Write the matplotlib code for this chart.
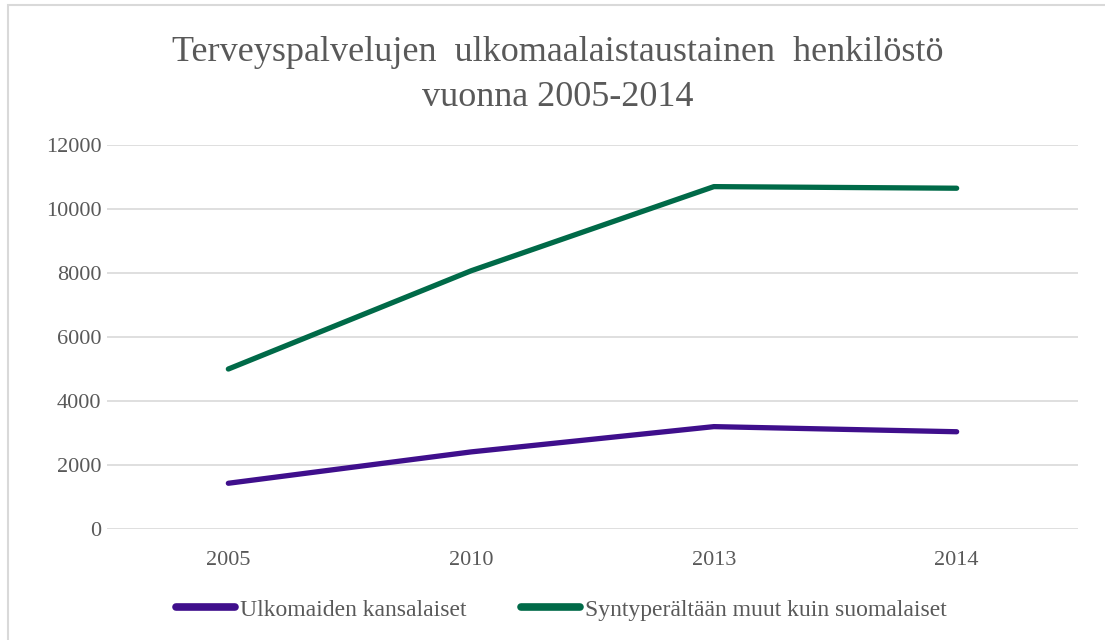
import matplotlib.pyplot as plt
from matplotlib.patches import Rectangle

# data
years = ["2005", "2010", "2013", "2014"]
kansalaiset = [1430, 2410, 3200, 3040]
syntyperaltaan = [5000, 8070, 10700, 10650]

series_names = ["Ulkomaiden kansalaiset", "Syntyperältään muut kuin suomalaiset"]
colors = ["#3f0f8c", "#006a48"]
title = "Terveyspalvelujen  ulkomaalaistaustainen  henkilöstö\nvuonna 2005-2014"

plt.rcParams["font.family"] = ["Liberation Serif", "DejaVu Serif"]

fig = plt.figure(figsize=(11.05, 6.4), dpi=100)
ax = fig.add_axes([0.0968, 0.1734, 0.8788, 0.6])

x = range(len(years))
ax.plot(x, kansalaiset, color=colors[0], lw=3.8, solid_capstyle="round",
        label=series_names[0])
ax.plot(x, syntyperaltaan, color=colors[1], lw=3.8, solid_capstyle="round",
        label=series_names[1])

ax.set_xlim(-0.5, len(years) - 0.5)
ax.set_ylim(0, 12000)
ax.set_yticks(range(0, 12001, 2000))
ax.set_xticks(list(x))
ax.set_xticklabels(years)
ax.grid(axis="y", color="#d9d9d9", lw=1.2)
ax.set_axisbelow(True)
for s in ax.spines.values():
    s.set_visible(False)
ax.tick_params(axis="both", length=0, colors="#595959", labelsize=16)
ax.tick_params(axis="y", pad=4)
ax.tick_params(axis="x", pad=16)

fig.text(0.505, 0.883, title, ha="center", va="center", fontsize=26,
         color="#595959", linespacing=1.5)

leg = fig.legend(loc="center", bbox_to_anchor=(0.508, 0.047), ncol=2,
                 frameon=False, fontsize=17, handlelength=2.5,
                 handletextpad=0.2, columnspacing=2.3)
for t in leg.get_texts():
    t.set_color("#595959")
for h in leg.get_lines():
    h.set_linewidth(5.5)

# outer chart border (only top/left visible in the crop)
fig.patches.append(Rectangle((8 / 1105, -0.1), 1.2, 1 - 5 / 640 + 0.1,
                             transform=fig.transFigure, fill=False,
                             edgecolor="#d9d9d9", lw=1.5))

fig.savefig("out.png", dpi=100)
